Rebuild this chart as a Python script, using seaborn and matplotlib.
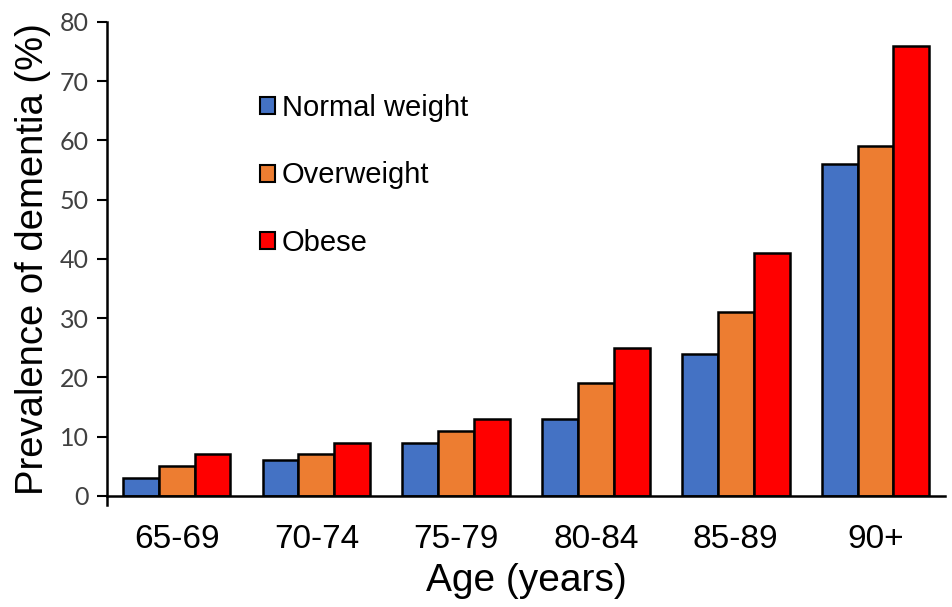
import matplotlib
matplotlib.use("Agg")
import matplotlib.pyplot as plt
import seaborn as sns
import pandas as pd

age_groups = ["65-69", "70-74", "75-79", "80-84", "85-89", "90+"]
normal_weight = [3, 6, 9, 13, 24, 56]
overweight = [5, 7, 11, 19, 31, 59]
obese = [7, 9, 13, 25, 41, 76]
series_names = ["Normal weight", "Overweight", "Obese"]
y_ticks = [0, 10, 20, 30, 40, 50, 60, 70, 80]

df = pd.DataFrame({
    "age": age_groups * 3,
    "value": normal_weight + overweight + obese,
    "group": [series_names[0]] * 6 + [series_names[1]] * 6 + [series_names[2]] * 6,
})

palette = {"Normal weight": "#4472C4", "Overweight": "#ED7D31", "Obese": "#FF0000"}

sns.set_theme(style="white")
plt.rcParams["font.family"] = ["Liberation Sans", "DejaVu Sans"]
plt.rcParams["text.color"] = "black"

fig = plt.figure(figsize=(9.53, 6.07), dpi=100)
ax = fig.add_axes([0.112, 0.183, 0.880, 0.781])

sns.barplot(data=df, x="age", y="value", hue="group", order=age_groups,
            hue_order=series_names, palette=palette, width=0.77,
            edgecolor="black", linewidth=1.8, saturation=1, ax=ax)

ax.set_xlim(-0.5, 5.5)
ax.set_ylim(0, 80)
ax.set_yticks(y_ticks)
ax.set_yticklabels([str(t) for t in y_ticks])
for lbl in ax.get_yticklabels():
    lbl.set_fontfamily(["Lato", "DejaVu Sans"])
    lbl.set_fontsize(18)
    lbl.set_color("#404040")
ax.tick_params(axis="y", which="major", direction="out", length=7, width=1.5,
               color="black", left=True, pad=6)
ax.tick_params(axis="x", length=0, pad=20, labelsize=24, labelcolor="black")

# vertical axis runs a little below the horizontal axis
ax.spines["left"].set_bounds(-1.5, 80)
ax.set_ylim(0, 80)
ax.spines["left"].set_clip_on(False)

for side in ["top", "right"]:
    ax.spines[side].set_visible(False)
for side in ["left", "bottom"]:
    ax.spines[side].set_color("black")
    ax.spines[side].set_linewidth(1.8)

ax.set_xlabel("Age (years)", fontsize=28, labelpad=6, color="black")
ax.set_ylabel("Prevalence of dementia (%)", fontsize=27.5, labelpad=6, color="black")

leg = ax.legend(loc="upper left", bbox_to_anchor=(0.165, 0.879), frameon=False,
                fontsize=21, handlelength=0.53, handleheight=0.53,
                handletextpad=0.22, labelspacing=1.36, borderpad=0)
for h in leg.legend_handles:
    h.set_edgecolor("black")
    h.set_linewidth(1.5)
for t in leg.get_texts():
    t.set_color("black")

fig.savefig("out.png", dpi=100)
